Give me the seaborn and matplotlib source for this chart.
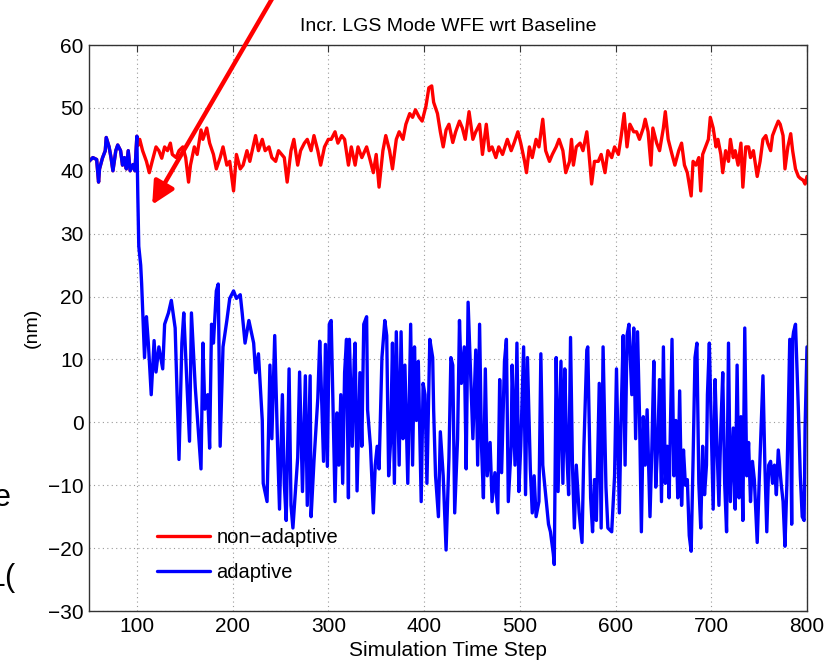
import matplotlib
matplotlib.use("Agg")
import matplotlib.pyplot as plt
import seaborn as sns
import pandas as pd

# Shared warm-up segment (both controllers identical until step 100)
warmup_steps = [50, 54, 58, 60, 61, 64, 67, 68, 71, 73, 75, 78, 80, 83, 85, 87, 89, 91, 93, 96, 98, 100]
warmup_wfe = [41.5, 42.1, 41.8, 38.2, 40.3, 42.0, 43.2, 45.3, 43.8, 42.1, 40.0, 43.2, 44.1, 43.2, 40.9, 42.1, 40.3, 43.2, 40.0, 41.0, 40.0, 45.5]

# Non-adaptive controller after step 100
nonadaptive_steps = [
    101, 103, 106, 110, 113, 116, 120, 123, 126, 129, 132, 135, 137, 141, 144, 148, 151, 154, 156, 160,
    163, 167, 169, 173, 176, 180, 183, 187, 190, 194, 197, 201, 204, 208, 211, 215, 218, 224, 227, 231,
    234, 238, 241, 245, 248, 254, 257, 261, 264, 268, 271, 275, 278, 282, 285, 289, 292, 296, 300, 303,
    307, 310, 314, 317, 321, 324, 328, 331, 335, 340, 343, 347, 350, 353, 357, 360, 364, 367, 371, 374,
    378, 381, 385, 388, 391, 395, 398, 402, 405, 408, 410, 414, 417, 420, 423, 426, 430, 433, 437, 440,
    443, 447, 451, 454, 458, 461, 465, 468, 471, 475, 478, 482, 487, 491, 494, 498, 501, 505, 507, 510,
    513, 517, 520, 524, 527, 531, 534, 538, 541, 545, 548, 552, 554, 556, 559, 563, 566, 570, 572, 575,
    578, 582, 585, 589, 592, 596, 599, 603, 606, 609, 612, 615, 619, 622, 625, 629, 631, 634, 637, 639,
    643, 646, 650, 652, 655, 659, 662, 666, 669, 672, 675, 679, 681, 684, 687, 689, 691, 694, 697, 699,
    702, 705, 707, 710, 712, 715, 718, 720, 723, 725, 728, 731, 733, 736, 739, 741, 744, 748, 751, 754,
    757, 759, 762, 764, 767, 770, 772, 775, 777, 780, 783, 785, 788, 791, 793, 796, 798, 800]
nonadaptive_wfe = [
    44.0, 45.0, 43.2, 41.5, 39.7, 41.5, 43.8, 43.2, 42.0, 43.8, 43.2, 44.4, 42.6, 42.1, 43.2, 43.8, 42.1, 38.2, 40.9, 43.8,
    42.6, 46.5, 45.0, 46.8, 44.4, 42.6, 40.3, 42.1, 43.8, 40.9, 41.5, 36.8, 42.6, 40.3, 40.9, 43.2, 41.5, 45.6, 43.2, 45.0,
    43.2, 43.8, 42.1, 41.5, 43.2, 42.1, 38.2, 43.2, 45.0, 40.9, 43.2, 44.4, 45.0, 43.2, 45.6, 43.2, 40.9, 43.8, 45.0, 45.0,
    46.2, 44.4, 45.6, 45.0, 40.9, 43.8, 40.9, 43.8, 42.1, 43.8, 42.1, 39.7, 42.6, 37.4, 43.2, 45.6, 43.2, 40.3, 45.0, 46.2,
    45.0, 47.4, 49.1, 48.5, 49.7, 48.5, 47.9, 50.3, 53.2, 53.5, 50.9, 49.1, 46.2, 43.8, 46.5, 47.4, 44.5, 46.2, 47.9, 46.8,
    45.0, 49.4, 45.0, 46.2, 47.4, 42.6, 47.4, 43.2, 43.8, 42.1, 43.8, 42.6, 45.0, 43.2, 44.4, 46.2, 44.4, 41.5, 39.7, 43.8,
    42.1, 45.0, 43.8, 48.2, 43.2, 41.5, 42.6, 43.8, 45.0, 43.2, 39.7, 41.5, 45.0, 40.9, 43.8, 44.4, 43.2, 46.2, 43.2, 37.9,
    41.5, 41.5, 42.6, 39.7, 43.2, 42.1, 43.8, 42.6, 45.6, 49.1, 43.8, 47.4, 46.2, 46.2, 45.0, 46.8, 48.2, 46.2, 40.9, 46.8,
    44.4, 43.2, 46.8, 49.4, 45.0, 42.6, 40.9, 43.2, 44.4, 40.9, 39.7, 36.0, 41.5, 40.9, 42.1, 36.8, 42.6, 43.8, 45.0, 48.5,
    46.8, 43.8, 45.0, 42.6, 39.7, 43.2, 41.5, 45.0, 42.1, 43.2, 40.9, 44.4, 37.4, 43.8, 43.8, 42.1, 43.2, 39.1, 41.5, 45.0,
    45.6, 44.4, 43.2, 45.6, 46.8, 47.9, 47.4, 45.6, 40.3, 43.8, 45.9, 43.2, 40.3, 39.1, 38.8, 38.5, 37.9, 39.1]

# Adaptive controller after step 100
adaptive_steps = [
    101, 102, 104, 105, 106, 107, 108, 110, 112, 115, 118, 120, 123, 127, 129, 133, 136, 140, 144, 147,
    149, 155, 157, 161, 167, 169, 171, 174, 176, 178, 180, 183, 185, 187, 190, 194, 197, 201, 204, 208,
    210, 213, 217, 222, 224, 227, 231, 232, 236, 239, 241, 244, 247, 249, 252, 254, 256, 259, 261, 263,
    266, 268, 270, 273, 276, 278, 281, 282, 285, 289, 291, 292, 295, 297, 299, 301, 303, 305, 307, 309,
    311, 313, 315, 317, 319, 321, 322, 325, 327, 328, 330, 333, 335, 337, 340, 341, 344, 347, 349, 351,
    353, 356, 359, 361, 363, 365, 367, 369, 371, 374, 376, 378, 380, 383, 386, 388, 390, 392, 394, 397,
    399, 401, 403, 406, 409, 410, 412, 415, 417, 420, 423, 426, 428, 430, 432, 435, 437, 439, 442, 444,
    446, 449, 451, 454, 456, 458, 460, 462, 464, 466, 469, 471, 474, 477, 479, 481, 484, 486, 488, 491,
    492, 495, 497, 499, 501, 504, 506, 508, 511, 513, 515, 517, 520, 522, 524, 527, 530, 532, 535, 536,
    538, 540, 543, 545, 547, 549, 551, 553, 555, 557, 559, 562, 565, 567, 570, 571, 574, 576, 578, 580,
    583, 585, 587, 590, 592, 596, 599, 601, 604, 606, 608, 610, 612, 614, 617, 619, 621, 623, 625, 627,
    629, 631, 633, 636, 638, 640, 642, 644, 646, 648, 650, 652, 654, 656, 659, 661, 663, 665, 667, 669,
    671, 673, 675, 677, 679, 681, 683, 685, 687, 689, 691, 693, 695, 696, 698, 700, 702, 704, 706, 708,
    710, 712, 714, 716, 718, 720, 723, 725, 727, 729, 731, 733, 735, 737, 739, 741, 743, 745, 748, 750,
    752, 754, 756, 758, 760, 762, 764, 766, 768, 770, 773, 775, 777, 779, 781, 782, 784, 785, 786, 788,
    791, 793, 795, 797, 798, 800]
adaptive_wfe = [
    36.0, 28.0, 25.0, 22.0, 18.0, 14.0, 10.3, 16.8, 12.6, 4.4, 13.0, 8.0, 12.0, 8.5, 15.6, 17.4, 19.4, 15.0, -5.9, 12.6,
    17.4, -3.0, 17.4, 5.6, -7.4, 12.6, 2.1, 4.4, -4.1, 15.6, 12.6, 20.9, 22.0, -3.8, 12.0, 16.2, 19.7, 20.9, 19.7, 20.3,
    17.4, 12.6, 16.2, 12.6, 7.9, 10.9, 0.3, -9.7, -12.6, 9.1, -2.6, 13.8, -3.8, -13.8, 4.4, -9.7, -15.6, 8.5, -13.2, -16.8,
    -10.0, -5.6, 8.0, -11.0, 7.4, -13.2, 7.4, -15.0, -6.2, 3.8, 12.9, 8.8, -6.2, 12.4, -7.0, 15.6, 16.2, 2.0, -12.6, 1.5,
    -6.8, 4.4, -9.7, 7.9, 13.2, -12.0, 13.2, -3.8, 9.7, 12.6, -10.9, 7.9, -3.8, 15.6, 16.8, 2.0, -3.8, -14.4, -6.8, -3.8,
    -7.4, 10.3, 16.2, 13.8, -8.5, -3.2, 12.6, -9.7, 14.4, -6.8, 14.4, -2.6, 9.1, -9.7, 15.6, -6.8, 12.0, 0.3, 9.7, -12.6,
    6.2, 4.4, -9.7, 13.2, 10.3, 2.0, -8.5, -15.0, -1.5, -8.5, -20.3, -5.6, 10.3, 9.1, -14.4, -2.6, 16.2, 6.2, 12.0, -7.4,
    19.1, 6.2, -2.6, 11.5, -6.8, 15.6, -3.8, -12.0, 8.5, -8.5, -3.2, -12.6, -8.0, -14.4, 6.8, -8.0, 9.7, 13.2, -12.6, -3.8,
    9.1, -6.8, 12.6, -11.0, -3.8, 12.0, -11.5, 10.3, -7.4, -14.4, -8.5, -15.0, -12.6, 10.9, -6.8, -11.5, -16.2, -17.4, -20.9, -22.6,
    10.3, -11.0, 9.7, -9.7, 8.5, -4.4, -11.5, 13.5, -6.8, -16.8, -6.8, -14.4, -19.1, -3.8, 11.5, 12.0, -12.0, -17.4, -9.1, -15.6,
    6.2, -16.8, 12.0, -10.3, -16.8, -17.4, -8.5, 8.5, -14.4, 2.0, 13.8, -6.8, 13.8, 15.6, 4.4, 15.0, -2.6, 14.4, 1.5, -17.4,
    0.9, -6.8, 2.0, -15.0, -3.8, 9.7, -10.3, -3.8, 6.8, -12.6, 12.0, -9.7, -3.8, -12.0, 13.2, -8.5, 0.3, -12.0, 5.0, -13.2,
    -4.4, -10.0, -9.1, -18.0, -20.5, -6.0, 10.3, 12.6, -9.7, -16.8, -3.8, -11.5, -6.8, 4.4, 12.6, -0.9, -13.8, 6.8, -3.8, -13.2,
    -0.9, 7.9, -9.7, -17.4, 12.6, -12.6, -0.9, -13.8, 9.1, -12.0, 0.9, -15.6, 15.0, -8.5, -3.2, -12.6, -6.2, -9.1, -19.1, -9.7,
    -0.9, 7.4, -6.8, -17.4, -6.8, -6.2, -9.7, -6.8, -11.5, -4.4, -9.7, -12.6, -19.7, -9.7, 5.0, 13.2, -16.2, 13.2, 14.4, 15.6,
    2.0, -8.5, -15.0, -15.6, -0.9, 12.0]

series_names = ["non\u2212adaptive", "adaptive"]
series_colors = ["#ff0000", "#0000ff"]

frames = [
    pd.DataFrame({"step": warmup_steps + nonadaptive_steps,
                  "wfe": warmup_wfe + nonadaptive_wfe,
                  "series": series_names[0]}),
    pd.DataFrame({"step": warmup_steps + adaptive_steps,
                  "wfe": warmup_wfe + adaptive_wfe,
                  "series": series_names[1]}),
]
df = pd.concat(frames, ignore_index=True)

sns.set_style("white")
plt.rcParams["font.family"] = ["Liberation Sans", "DejaVu Sans"]
plt.rcParams["text.color"] = "black"
plt.rcParams["axes.labelcolor"] = "black"

fig = plt.figure(figsize=(8.38, 6.63), dpi=100)
ax = fig.add_axes([0.1062, 0.0784, 0.8568, 0.8537])

sns.lineplot(data=df, x="step", y="wfe", hue="series", hue_order=series_names,
             palette=dict(zip(series_names, series_colors)), estimator=None,
             sort=False, linewidth=2.4, ax=ax, legend=False)

ax.set_xlim(50, 800)
ax.set_ylim(-30, 60)
ax.set_xticks(range(100, 801, 100))
ax.set_yticks(range(-30, 61, 10))
ax.grid(True, linestyle=(0, (1, 3)), color="#9a9a9a", linewidth=0.8)
ax.tick_params(direction="in", top=True, right=True, length=5, width=0.8,
               labelsize=15, colors="#333333", labelcolor="black", pad=4)
for sp in ax.spines.values():
    sp.set_color("#333333")
    sp.set_linewidth(1.0)

ax.set_title("Incr. LGS Mode WFE wrt Baseline", fontsize=14, pad=10)
ax.set_xlabel("Simulation Time Step", fontsize=15, labelpad=4)
ax.set_ylabel("(nm)", fontsize=14, labelpad=5)

leg = ax.legend(ax.lines[:2], series_names, loc="lower left",
                bbox_to_anchor=(0.095, 0.052), frameon=False, fontsize=14.5,
                handlelength=2.6, handletextpad=0.35, labelspacing=0.75,
                borderpad=0, borderaxespad=0)

# Pointer arrow to the start of adaptation
ax.annotate("", xy=(116, 34.6), xycoords="data",
            xytext=(0.333, 1.02), textcoords="figure fraction",
            arrowprops=dict(arrowstyle="-|>", color="#ff0000", lw=3.2,
                            mutation_scale=34, shrinkA=0, shrinkB=0),
            annotation_clip=False)

# Fragments of neighbouring slide text at the left edge
fig.text(11 / 838, 1 - 498 / 663, "e", fontsize=22, ha="right", va="center",
         color="black", family=["Liberation Sans", "DejaVu Sans"])
fig.text(16 / 838, 1 - 578 / 663, "1(", fontsize=22, ha="right", va="center",
         color="black", family=["Liberation Sans", "DejaVu Sans"])

fig.savefig("out.png", dpi=100)
